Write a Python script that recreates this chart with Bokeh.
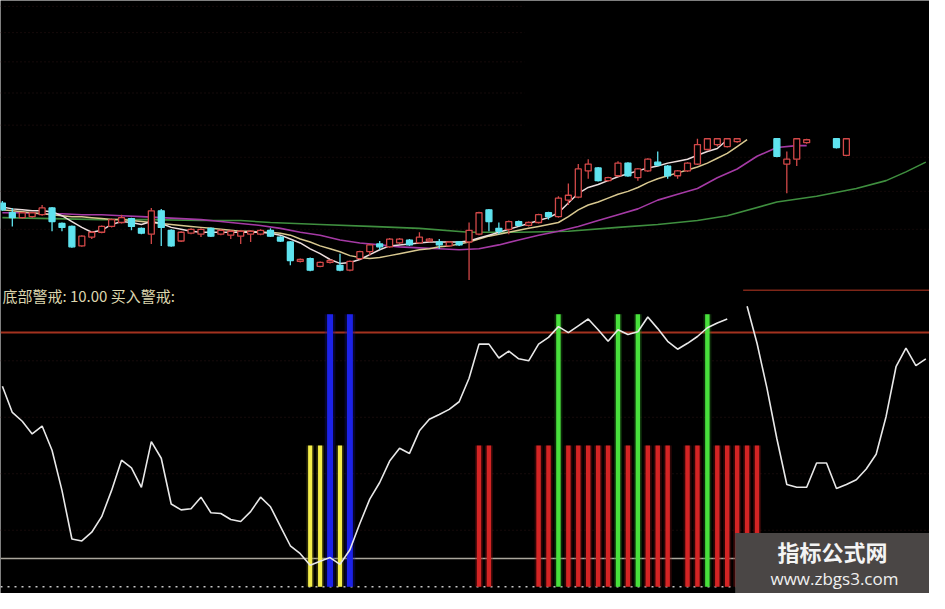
from bokeh.plotting import figure
from bokeh.models import ColumnDataSource, Range1d, Label
from bokeh.embed import file_html
from bokeh.resources import INLINE
import numpy as np

W, H = 929, 593

# ---------------- price panel (candles) ----------------
cdl_idx = list(range(0, 75)) + [78, 79, 80, 81, 84, 85]
cdl_open = [12.60, 12.10, 11.85, 11.90, 12.00, 12.35, 11.55, 11.40, 10.40, 10.85,
            11.10, 11.40, 11.60, 11.80, 11.30, 11.00, 12.20, 11.20, 10.65, 11.05,
            11.00, 11.30, 11.00, 10.95, 10.90, 11.00, 11.00, 11.20, 10.85, 10.60,
            9.60, 9.75, 9.35, 9.55, 9.40, 9.15, 9.75, 10.10, 10.50, 10.35,
            10.55, 10.70, 10.55, 10.65, 10.60, 10.40, 10.60, 10.60, 11.00, 12.25,
            11.30, 11.25, 11.65, 11.45, 11.60, 12.10, 11.90, 12.75, 12.90, 14.25,
            14.40, 13.75, 14.00, 14.65, 13.90, 14.25, 14.70, 14.50, 14.00, 14.25,
            14.60, 15.35, 15.60, 15.50, 15.75,
            15.90, 14.60, 14.85, 15.70, 15.90, 15.05]
cdl_close = [12.25, 11.85, 12.10, 12.10, 12.35, 11.65, 11.35, 10.35, 10.90, 11.10,
             11.40, 11.75, 11.85, 11.40, 11.05, 12.20, 11.35, 10.40, 11.10, 11.25,
             11.25, 10.90, 11.20, 11.15, 11.15, 11.15, 11.20, 10.90, 10.65, 9.65,
             9.70, 9.15, 9.55, 9.65, 9.15, 9.60, 10.10, 10.45, 10.35, 10.75,
             10.75, 10.45, 10.85, 10.75, 10.45, 10.60, 10.45, 11.20, 12.10, 11.65,
             11.15, 11.65, 11.45, 11.60, 12.00, 11.90, 12.85, 13.00, 14.35, 14.60,
             13.75, 13.90, 14.65, 14.00, 14.35, 14.85, 14.55, 14.00, 14.25, 14.65,
             15.60, 15.90, 15.90, 15.90, 15.90,
             15.00, 14.85, 15.90, 15.85, 15.45, 15.90]
cdl_high = [12.70, 12.35, 12.15, 12.15, 12.50, 12.40, 11.60, 11.45, 10.95, 11.15,
            11.45, 11.80, 12.00, 11.85, 11.35, 12.35, 12.30, 11.25, 11.15, 11.30,
            11.30, 11.35, 11.25, 11.20, 11.20, 11.20, 11.25, 11.30, 10.90, 10.65,
            9.75, 9.80, 9.60, 9.70, 10.00, 9.65, 10.15, 10.50, 10.65, 10.80,
            10.80, 10.75, 11.10, 10.80, 10.75, 10.65, 10.65, 11.60, 12.15, 12.30,
            11.60, 11.70, 11.70, 11.65, 12.05, 12.15, 12.95, 13.60, 14.60, 14.85,
            14.45, 13.95, 14.75, 14.70, 14.40, 14.90, 15.25, 14.55, 14.30, 14.70,
            15.90, 15.90, 15.90, 15.90, 15.90,
            15.90, 15.25, 15.90, 15.90, 15.90, 15.90]
cdl_low = [12.20, 11.40, 11.80, 11.85, 11.95, 11.15, 11.15, 10.30, 10.35, 10.75,
           11.05, 11.35, 11.55, 11.20, 11.00, 10.50, 10.40, 10.35, 10.60, 11.00,
           10.85, 10.85, 10.95, 10.75, 10.50, 10.60, 10.95, 10.85, 10.60, 9.40,
           9.55, 9.10, 9.30, 9.50, 9.10, 9.10, 9.70, 9.90, 10.20, 10.30,
           10.50, 10.40, 10.50, 10.60, 10.25, 10.35, 10.40, 8.65, 10.95, 11.15,
           11.00, 11.00, 11.40, 11.40, 11.55, 11.75, 11.85, 12.50, 12.85, 13.85,
           13.70, 13.70, 13.95, 13.95, 13.75, 14.20, 14.50, 13.85, 13.85, 14.20,
           14.55, 15.30, 15.50, 15.45, 15.70,
           14.95, 13.10, 14.50, 15.65, 15.40, 15.00]

# moving averages (price units)
ma5_idx = list(range(0, 74))
ma5 = [12.40, 12.30, 12.25, 12.20, 12.20, 12.15, 11.95, 11.65, 11.35, 11.10,
       11.20, 11.50, 11.65, 11.60, 11.50, 11.65, 11.55, 11.35, 11.25, 11.15,
       11.10, 11.10, 11.10, 11.10, 11.10, 11.10, 11.10, 11.05, 10.95, 10.75,
       10.55, 10.25, 10.00, 9.70, 9.50, 9.55, 9.70, 9.95, 10.20, 10.40,
       10.45, 10.50, 10.55, 10.60, 10.60, 10.60, 10.60, 10.65, 10.80, 10.95,
       11.10, 11.25, 11.40, 11.55, 11.70, 11.85, 12.10, 12.60, 13.10, 13.40,
       13.55, 13.75, 13.95, 14.10, 14.25, 14.40, 14.50, 14.65, 14.75, 14.85,
       15.05, 15.25, 15.40, 15.85]
ma10_idx = list(range(0, 76))
ma10 = [12.25, 12.20, 12.15, 12.10, 12.05, 12.00, 11.95, 11.90, 11.90, 11.85,
        11.80, 11.75, 11.75, 11.70, 11.65, 11.60, 11.55, 11.50, 11.45, 11.40,
        11.35, 11.30, 11.25, 11.20, 11.15, 11.15, 11.10, 11.10, 11.05, 10.95,
        10.75, 10.60, 10.40, 10.25, 10.10, 9.90, 9.80, 9.75, 9.80, 9.90,
        10.00, 10.10, 10.20, 10.25, 10.35, 10.40, 10.50, 10.60, 10.75, 10.90,
        11.00, 11.10, 11.20, 11.30, 11.40, 11.50, 11.60, 11.90, 12.25, 12.50,
        12.65, 12.85, 13.05, 13.20, 13.40, 13.65, 13.85, 14.00, 14.15, 14.30,
        14.45, 14.65, 14.90, 15.15, 15.50, 15.85]
ma20_idx = list(range(0, 81, 2)) + [81]
ma20 = [12.10, 12.10, 12.05, 12.05, 12.00, 12.00, 11.95, 11.90, 11.85, 11.80,
        11.75, 11.65, 11.55, 11.45, 11.30, 11.10, 10.95, 10.70, 10.55, 10.45,
        10.35, 10.30, 10.25, 10.20, 10.25, 10.45, 10.70, 10.95, 11.15, 11.40,
        11.70, 12.00, 12.30, 12.75, 13.05, 13.35, 13.90, 14.35, 15.00, 15.45,
        15.55, 15.55]
ma60_idx = [0, 5, 10, 15, 20, 24, 27, 32, 37, 42, 47, 52, 57, 62, 66, 70, 73, 78, 82, 86, 89, 91, 93]
ma60 = [11.85, 11.80, 11.75, 11.75, 11.70, 11.70, 11.60, 11.50, 11.40, 11.30,
        11.10, 11.10, 11.15, 11.35, 11.50, 11.70, 11.95, 12.65, 12.95, 13.35,
        13.75, 14.20, 14.70]

# ---------------- indicator panel ----------------
ind_idx = list(range(0, 94))
ind_val = [71.0, 61.7, 58.6, 54.1, 56.9, 48.3, 34.1, 16.9, 16.2, 19.3,
           24.8, 34.1, 44.8, 42.1, 35.2, 51.4, 45.5, 29.3, 27.2, 27.6,
           31.7, 26.2, 25.9, 23.8, 23.1, 26.6, 31.7, 28.3, 21.4, 14.5,
           11.7, 7.6, 9.0, 10.3, 7.9, 13.1, 22.4, 31.0, 36.9, 44.5,
           49.0, 47.2, 55.2, 59.3, 61.0, 62.8, 65.5, 73.8, 85.9, 85.9,
           81.0, 83.4, 80.7, 80.0, 85.9, 88.3, 92.1, 90.0, 92.4, 94.8,
           91.0, 86.9, 91.0, 89.3, 90.3, 95.5, 91.4, 86.9, 84.1, 86.2,
           88.6, 91.7, 93.4, 94.8, float("nan"), 99.3, 86.2, 70.3, 52.4, 36.2,
           35.2, 35.2, 43.8, 43.8, 34.8, 36.2, 37.9, 41.7, 46.9, 60.3,
           77.9, 84.5, 78.3, 80.7]

yellow_idx = [31, 32, 34]
blue_idx = [33, 35]
red_idx = [48, 49, 54, 55, 57, 58, 59, 60, 61, 63, 65, 66, 67, 69, 70, 72, 73, 74, 75, 76]
green_idx = [56, 62, 64, 71]
low_bar_h = 50
high_bar_h = 96.5

bottom_level = 10     # 底部警戒
upper_level = 90
top_level = 105
grid_levels = [20, 40, 60, 80]
price_grid = [22.7, 21.35, 19.85, 18.25, 16.6]
price_grid_full = [14.95, 13.2, 11.25]

label_text = "底部警戒: 10.00 买入警戒:"

# ---------------- figure ----------------
p = figure(width=W, height=H, output_backend="svg", toolbar_location=None,
           x_range=Range1d(-0.19, 93.37), y_range=Range1d(-2.41, 207.6),
           x_axis_type=None, y_axis_type=None, min_border=0,
           background_fill_color="black", border_fill_color="black",
           outline_line_color=None)
p.grid.visible = False
p.extra_y_ranges = {"price": Range1d(-7.45, 23.0)}

xl, xr = -0.19, 93.37

# faint grid lines
for g in price_grid:
    p.line([xl, 52.6], [g, g], y_range_name="price", line_color="#2a1414",
           line_width=1, line_dash="1 3")
for g in price_grid_full:
    p.line([xl, xr], [g, g], y_range_name="price", line_color="#241111",
           line_width=1, line_dash="1 3")
for g in grid_levels:
    p.line([xl, xr], [g, g], line_color="#2c1515", line_width=1, line_dash="1 3")

# moving averages
p.line(ma60_idx, ma60, y_range_name="price", line_color="#3f8f3f", line_width=1.6)
p.line(ma20_idx, ma20, y_range_name="price", line_color="#a53aa5", line_width=1.6)
p.line(ma10_idx, ma10, y_range_name="price", line_color="#d8c890", line_width=1.5)
p.line(ma5_idx, ma5, y_range_name="price", line_color="#ecdede", line_width=1.5)

# candles
o = np.array(cdl_open); c = np.array(cdl_close)
up = c >= o
cols = np.where(up, "#d24848", "#5fe3ef")
src = ColumnDataSource(dict(x=cdl_idx, o=o, c=c, h=cdl_high, l=cdl_low,
                            top=np.maximum(o, c), bot=np.minimum(o, c),
                            col=list(cols),
                            fill=list(np.where(up, "black", "#5fe3ef"))))
p.segment(x0="x", y0="l", x1="x", y1="h", source=src, y_range_name="price",
          line_color="col", line_width=1.3)
p.vbar(x="x", top="top", bottom="bot", width=0.6, source=src, y_range_name="price",
       fill_color="fill", line_color="col", line_width=1.3)

# indicator reference lines
p.line([xl, xr], [upper_level, upper_level], line_color="#a3321f", line_width=2)
p.line([74.6, xr], [top_level, top_level], line_color="#7e2618", line_width=1.5)
p.line([xl, xr], [bottom_level, bottom_level], line_color="#aaa69c", line_width=1.5)
p.line([xl, xr], [0, 0], line_color="#c8c8c8", line_width=1.5, line_dash="2 5")

# signal bars (with glow)
def bars(idx, h, color, glow, w):
    p.vbar(x=idx, top=h, bottom=0, width=w * 1.8, fill_color=glow, fill_alpha=0.35,
           line_color=None)
    p.vbar(x=idx, top=h, bottom=0, width=w, fill_color=color, line_color=None)

bars(red_idx, low_bar_h, "#d42424", "#801010", 0.45)
bars(yellow_idx, low_bar_h, "#f4ee4a", "#807a20", 0.42)
bars(green_idx, high_bar_h, "#48e03c", "#207018", 0.45)
bars(blue_idx, high_bar_h, "#1c22e8", "#101080", 0.6)

# indicator line
p.line(ind_idx, ind_val, line_color="#e8e8e8", line_width=1.6)

# title text
p.add_layout(Label(x=0.0, y=103.3, text=label_text, text_color="#dcd6ae",
                   text_font="Noto Sans CJK SC", text_font_size="15px",
                   text_baseline="middle"))

# watermark box
p.quad(left=[73.8], right=[xr], bottom=[-2.41], top=[19.0],
       fill_color="#4a4645", line_color=None)
p.add_layout(Label(x=83.6, y=12.6, text="指标公式网", text_color="#f4f4f4",
                   text_font="Noto Sans CJK SC", text_font_size="22px",
                   text_font_style="bold", text_align="center", text_baseline="middle"))
p.add_layout(Label(x=83.8, y=3.0, text="www.zbgs3.com", text_color="#f0f0f0",
                   text_font="Open Sans", text_font_size="17px",
                   text_align="center", text_baseline="middle"))

open("out.html", "w").write(file_html(p, INLINE))
